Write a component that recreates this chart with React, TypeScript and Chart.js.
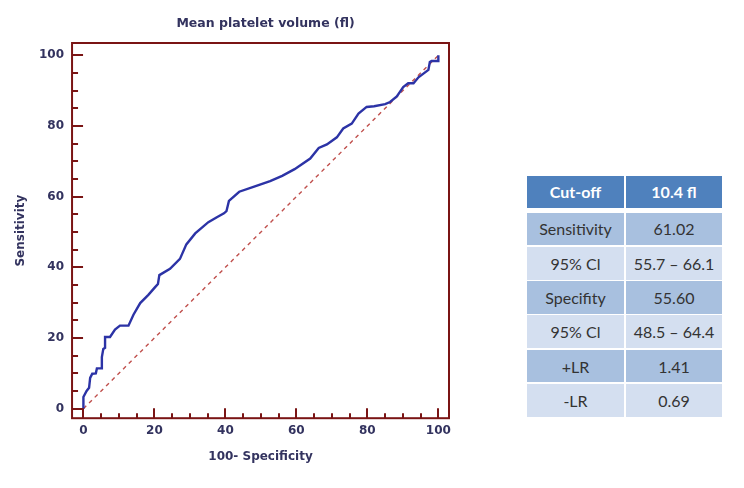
import React, { useEffect, useRef } from "react";
import { Chart, registerables } from "chart.js";
Chart.register(...registerables);

// ROC curve: 100 - specificity (x) vs sensitivity (y)
const fprValues = [0, 0, 0.9, 1.6, 1.9, 2.5, 3.5, 3.8, 5, 5.2, 5.6, 6.1, 6.1, 7.5, 8.9, 10.3, 12.7, 14.1, 16, 18.3, 20.2, 21.0, 21.4, 24.4, 27.2, 29, 31.5, 35.2, 37.6, 39.6, 40.3, 41, 43.9, 47.9, 52.6, 56, 59.5, 63.9, 66.3, 68.6, 71.4, 73.2, 75.6, 77.5, 79.8, 81.9, 85, 86.4, 88.3, 90.1, 91.5, 93, 94.4, 97.2, 97.6, 98.1, 100, 100];
const sensValues = [0, 3.3, 5, 5.9, 8.7, 9.9, 10, 11.4, 11.4, 14.6, 16.9, 17.2, 20.3, 20.3, 22.4, 23.5, 23.5, 26.6, 29.9, 32.2, 34.4, 35.3, 37.8, 39.6, 42.4, 46.5, 49.6, 52.8, 54.2, 55.3, 55.9, 58.8, 61.4, 62.8, 64.4, 65.9, 67.8, 70.8, 73.8, 74.8, 76.8, 79.3, 80.7, 83.5, 85.4, 85.6, 86.2, 86.8, 88.4, 91, 92.1, 92.1, 93.8, 95.9, 98.1, 98.4, 98.4, 100];
const diagX = [0, 100];
const diagY = [0, 100];
const tickValues = [0, 5, 10, 15, 20, 25, 30, 35, 40, 45, 50, 55, 60, 65, 70, 75, 80, 85, 90, 95, 100];

const chartTitle = "Mean platelet volume (fl)";
const xTitle = "100- Specificity";
const yTitle = "Sensitivity";

const tableHeader = ["Cut-off", "10.4 fl"];
const tableLabels = ["Sensitivity", "95% Cl", "Specifity", "95% Cl", "+LR", "-LR"];
const tableValues = ["61.02", "55.7 \u2013 66.1", "55.60", "48.5 \u2013 64.4", "1.41", "0.69"];

const FRAME = "#7a1414";
const NAVY = "#33335f";
const FONT = "'DejaVu Sans', Verdana, sans-serif";

const framePlugin = {
  id: "frameTicks",
  afterDraw(chart: any) {
    const { ctx, chartArea, scales } = chart;
    const { left, right, top, bottom } = chartArea;
    const x = scales.x;
    const y = scales.y;
    ctx.save();
    ctx.strokeStyle = FRAME;
    ctx.lineWidth = 2;
    ctx.strokeRect(left, top, right - left, bottom - top);
    ctx.beginPath();
    y.ticks.forEach((t: any) => {
      const py = Math.round(y.getPixelForValue(t.value));
      const len = t.value % 20 === 0 ? 11 : 6;
      ctx.moveTo(left, py);
      ctx.lineTo(left + len, py);
    });
    x.ticks.forEach((t: any) => {
      const px = Math.round(x.getPixelForValue(t.value));
      const len = t.value % 20 === 0 ? 10 : 5;
      ctx.moveTo(px, bottom);
      ctx.lineTo(px, bottom - len);
    });
    ctx.stroke();
    // chart title centred over the plot frame
    ctx.fillStyle = NAVY;
    ctx.font = "bold 12.5px " + FONT;
    ctx.textAlign = "center";
    ctx.textBaseline = "middle";
    ctx.fillText(chartTitle, (left + right) / 2 + 5, top - 19);
    ctx.restore();
  },
};

function RocChart() {
  const ref = useRef<HTMLCanvasElement | null>(null);
  useEffect(() => {
    if (!ref.current) return;
    const rocData = fprValues.map((v, i) => ({ x: v, y: sensValues[i] }));
    const diagData = diagX.map((v, i) => ({ x: v, y: diagY[i] }));
    const setTicks = (scale: any) => {
      scale.ticks = tickValues.map((v) => ({ value: v }));
    };
    const tickLabel = (v: any) => (Number(v) % 20 === 0 ? String(v) : "");
    const font = { family: FONT, size: 12, weight: "bold" };
    const chart = new Chart(ref.current, {
      type: "line",
      data: {
        datasets: [
          {
            data: rocData,
            borderColor: "#2c33a6",
            borderWidth: 2.4,
            pointRadius: 0,
            tension: 0,
            fill: false,
            order: 0,
          },
          {
            data: diagData,
            borderColor: "#c0504d",
            borderWidth: 1.4,
            borderDash: [4, 4],
            pointRadius: 0,
            fill: false,
            order: 1,
          },
        ],
      },
      options: {
        animation: false,
        responsive: false,
        events: [],
        layout: { padding: { left: 0, top: 43, right: 21, bottom: 0 } },
        plugins: {
          legend: { display: false },
          tooltip: { enabled: false },
          title: { display: false },
        },
        scales: {
          x: {
            type: "linear",
            min: -3.2,
            max: 103,
            afterBuildTicks: setTicks,
            grid: { display: false, drawTicks: false },
            border: { display: false },
            ticks: {
              callback: tickLabel,
              color: NAVY,
              font,
              padding: 5.8,
              maxRotation: 0,
              autoSkip: false,
            },
            title: {
              display: true,
              text: xTitle,
              color: NAVY,
              font,
              padding: { top: 5.6, bottom: 23.8 },
            },
          },
          y: {
            type: "linear",
            min: -2.7,
            max: 103.5,
            afterBuildTicks: setTicks,
            grid: { display: false, drawTicks: false },
            border: { display: false },
            ticks: {
              callback: tickLabel,
              color: NAVY,
              font,
              padding: 8,
              autoSkip: false,
            },
            title: {
              display: true,
              text: yTitle,
              color: NAVY,
              font,
              padding: { top: 13.8, bottom: 2.8 },
            },
          },
        },
      },
      plugins: [framePlugin],
    } as any);
    return () => chart.destroy();
  }, []);
  return <canvas ref={ref} width={470} height={488} style={{ width: 470, height: 488, display: "block" }} />;
}

function StatsTable() {
  const cellFont = "Lato, 'Open Sans', sans-serif";
  const cell = (text: string, bg: string, w: number, h: number, bold: boolean, color: string) => (
    <div
      style={{
        width: w,
        height: h,
        background: bg,
        color,
        fontFamily: cellFont,
        fontSize: 16,
        fontWeight: bold ? 700 : 400,
        display: "flex",
        alignItems: "center",
        justifyContent: "center",
        whiteSpace: "nowrap",
      }}
    >
      {text}
    </div>
  );
  return (
    <div style={{ position: "absolute", left: 527, top: 176, width: 195 }}>
      <div style={{ display: "flex", gap: 2 }}>
        {cell(tableHeader[0], "#4f81bd", 97, 31.5, true, "#ffffff")}
        {cell(tableHeader[1], "#4f81bd", 96, 31.5, true, "#ffffff")}
      </div>
      <div style={{ height: 5 }} />
      {tableLabels.map((lab, i) => {
        const bg = i % 2 === 0 ? "#a8c0df" : "#d4dff0";
        return (
          <div key={i} style={{ display: "flex", gap: 2, marginBottom: 1.5 }}>
            {cell(lab, bg, 97, 32.8, false, "#333333")}
            {cell(tableValues[i], bg, 96, 32.8, false, "#333333")}
          </div>
        );
      })}
    </div>
  );
}

export default function App() {
  return (
    <div style={{ position: "fixed", left: 0, top: 0, width: 744, height: 488, background: "#ffffff" }}>
      <div style={{ position: "absolute", left: 0, top: 0 }}>
        <RocChart />
      </div>
      <StatsTable />
    </div>
  );
}
